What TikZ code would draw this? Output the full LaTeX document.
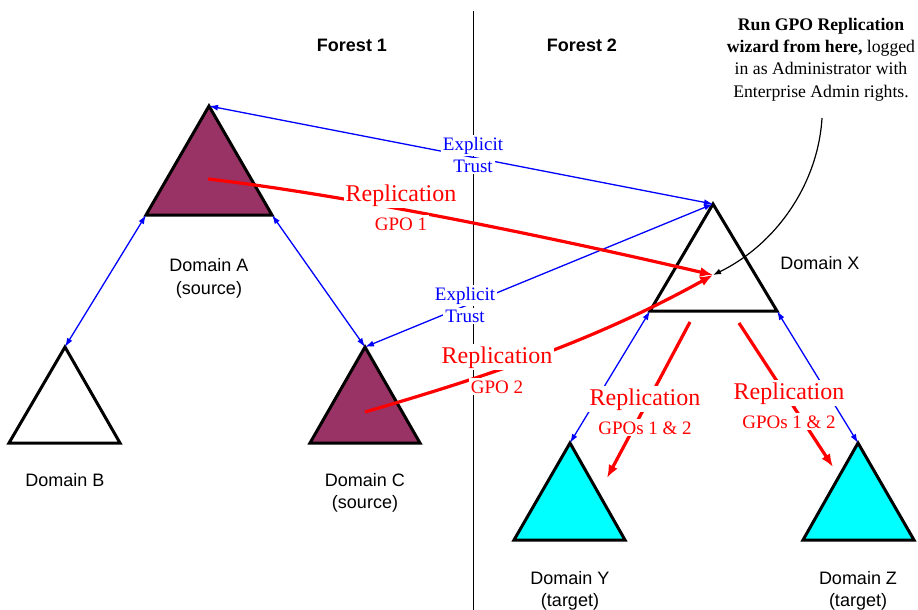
\documentclass[tikz,border=0pt]{standalone}
\usepackage{fontspec}
\setmainfont{Liberation Serif}
\newfontfamily\domfont{Liberation Sans}
\usetikzlibrary{arrows.meta}
\definecolor{plum}{HTML}{993366}
\definecolor{aqua}{HTML}{00FFFF}
\begin{document}
\begin{tikzpicture}[x=1pt,y=-1pt,
  domtri/.style={draw=black,line width=3pt,line join=miter},
  srctri/.style={domtri,fill=plum},
  tgttri/.style={domtri,fill=aqua},
  plaintri/.style={domtri,fill=white},
  trust/.style={draw=blue,line width=1.3pt,{Latex[length=9pt,width=6pt]}-{Latex[length=9pt,width=6pt]}},
  replpath/.style={draw=red,line width=3.2pt,-{Latex[length=13pt,width=10pt]}},
  wizard/.style={draw=black,line width=1.2pt,-{Latex[length=8pt,width=6pt]}},
  domlabel/.style={font=\domfont\fontsize{18}{21}\selectfont,anchor=base,inner sep=0pt},
  forestlabel/.style={font=\domfont\bfseries\fontsize{18}{21}\selectfont,anchor=base,inner sep=0pt},
  trustlabel/.style={text=blue,fill=white,anchor=base,inner sep=2pt,font=\fontsize{19}{22}\selectfont},
  repltitle/.style={text=red,fill=white,anchor=base,inner sep=2pt,font=\fontsize{24}{28}\selectfont},
  replsub/.style={text=red,fill=white,anchor=base,inner sep=2pt,font=\fontsize{19}{22}\selectfont},
]
\useasboundingbox (0,0) rectangle (918,610);

% forest divider
\coordinate (div-top) at (473,11);
\coordinate (div-bot) at (473,610);
\draw[line width=1pt] (div-top) -- (div-bot);

% domain corners
\coordinate (A-apex) at (209,106); \coordinate (A-bl) at (146,215); \coordinate (A-br) at (272,215);
\coordinate (A-c) at (208,179);
\coordinate (B-apex) at (65,347);  \coordinate (B-bl) at (9,443);   \coordinate (B-br) at (120,443);
\coordinate (C-apex) at (365,347); \coordinate (C-bl) at (310,443); \coordinate (C-br) at (420,443);
\coordinate (C-c) at (365,412);
\coordinate (X-apex) at (713,204); \coordinate (X-bl) at (650,311); \coordinate (X-br) at (777,311);
\coordinate (X-in) at (713,275);
\coordinate (X-outY) at (690,322); \coordinate (X-outZ) at (739,323);
\coordinate (Y-apex) at (570,443); \coordinate (Y-bl) at (514,540); \coordinate (Y-br) at (625,540);
\coordinate (Y-in) at (607,478);
\coordinate (Z-apex) at (858,443); \coordinate (Z-bl) at (803,540); \coordinate (Z-br) at (914,540);
\coordinate (Z-in) at (833,467);
\coordinate (note-foot) at (822,118);

% domains
\draw[srctri]   (A-apex) -- (A-bl) -- (A-br) -- cycle;
\draw[plaintri] (B-apex) -- (B-bl) -- (B-br) -- cycle;
\draw[srctri]   (C-apex) -- (C-bl) -- (C-br) -- cycle;
\draw[plaintri] (X-apex) -- (X-bl) -- (X-br) -- cycle;
\draw[tgttri]   (Y-apex) -- (Y-bl) -- (Y-br) -- cycle;
\draw[tgttri]   (Z-apex) -- (Z-bl) -- (Z-br) -- cycle;

% trusts
\draw[trust] (A-apex) -- (X-apex);
\draw[trust] (X-apex) -- (C-apex);
\draw[trust] (A-bl) -- (B-apex);
\draw[trust] (A-br) -- (C-apex);
\draw[trust] (X-bl) -- (Y-apex);
\draw[trust] (X-br) -- (Z-apex);

% replication paths
\draw[replpath] (A-c) .. controls (330,193) and (520,230) .. (X-in);
\draw[replpath] (C-c) .. controls (485,377) and (592,342) .. (X-in);
\draw[replpath] (X-outY) -- (Y-in);
\draw[replpath] (X-outZ) -- (Z-in);

% wizard note
\draw[wizard] (note-foot) .. controls (818,185) and (775,245) .. (X-in);
\node[font=\fontsize{17.7}{22.2}\selectfont,align=center,anchor=north,inner sep=0pt] (note) at (821,18)
  {\textbf{Run GPO Replication}\\\textbf{wizard from here,} logged\\in as Administrator with\\Enterprise Admin rights.};

% trust labels
\node[trustlabel] (t1a) at (473,150) {Explicit};
\node[trustlabel] (t1b) at (473,172) {Trust};
\node[trustlabel] (t2a) at (465,300) {Explicit};
\node[trustlabel] (t2b) at (465,322) {Trust};

% replication labels
\node[repltitle] (r1a) at (401,201) {Replication};
\node[replsub]   (r1b) at (401,230) {GPO 1};
\node[repltitle] (r2a) at (497,363) {Replication};
\node[replsub]   (r2b) at (497,393) {GPO 2};
\node[repltitle] (r3a) at (645,405) {Replication};
\node[replsub]   (r3b) at (645,434) {GPOs 1 \& 2};
\node[repltitle] (r4a) at (789,399) {Replication};
\node[replsub]   (r4b) at (789,428) {GPOs 1 \& 2};

% forest and domain names
\node[forestlabel] (f1) at (352,51.5) {Forest 1};
\node[forestlabel] (f2) at (582,51.5) {Forest 2};
\node[domlabel] (lA) at (209,271.5) {Domain A};
\node[domlabel] (lA2) at (209,294) {(source)};
\node[domlabel] (lB) at (65,486) {Domain B};
\node[domlabel] (lC) at (365,486) {Domain C};
\node[domlabel] (lC2) at (365,508) {(source)};
\node[domlabel] (lX) at (820,269.5) {Domain X};
\node[domlabel] (lY) at (570,584.5) {Domain Y};
\node[domlabel] (lY2) at (570,606) {(target)};
\node[domlabel] (lZ) at (858,584.5) {Domain Z};
\node[domlabel] (lZ2) at (858,606) {(target)};
\end{tikzpicture}
\end{document}
